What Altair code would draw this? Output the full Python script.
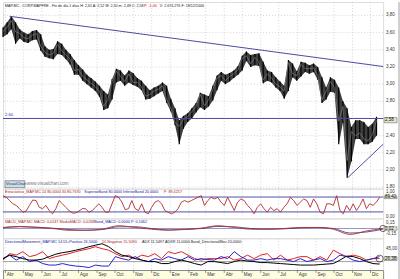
import altair as alt
import pandas as pd
import numpy as np

# ---------------- data ----------------
week_close = [3.61, 3.66, 3.74, 3.61, 3.59, 3.54, 3.53, 3.57, 3.59, 3.44,
              3.37, 3.34, 3.36, 3.46, 3.39, 3.34, 3.29, 3.16, 3.17, 3.09,
              3.05, 3.01, 2.97, 2.92, 2.74, 2.82, 3.03, 3.15, 3.09, 3.03,
              3.12, 3.02, 3.02, 2.97, 2.86, 2.88, 2.92, 2.94, 2.98, 2.82,
              2.72, 2.55, 2.51, 2.59, 2.62, 2.68, 2.74, 2.88, 2.75, 2.82,
              2.94, 3.07, 3.10, 3.04, 3.09, 3.12, 3.17, 3.30, 3.33, 3.24,
              3.31, 3.26, 3.05, 3.12, 3.07, 3.00, 2.97, 2.92, 3.25, 3.12,
              3.10, 3.23, 3.18, 3.18, 3.19, 3.10, 2.82, 2.92, 3.03, 2.96,
              2.57, 2.74, 2.11, 2.45, 2.40, 2.43, 2.36, 2.34, 2.41, 2.58]
week_high = [3.66, 3.72, 3.79, 3.72, 3.64, 3.60, 3.58, 3.62, 3.63, 3.58,
             3.44, 3.40, 3.41, 3.50, 3.47, 3.40, 3.35, 3.28, 3.22, 3.17,
             3.11, 3.07, 3.03, 2.98, 2.92, 2.88, 3.06, 3.18, 3.16, 3.10,
             3.16, 3.13, 3.07, 3.04, 2.98, 2.93, 2.96, 2.98, 3.02, 2.98,
             2.83, 2.72, 2.58, 2.63, 2.66, 2.72, 2.78, 2.90, 2.88, 2.86,
             2.98, 3.10, 3.14, 3.11, 3.13, 3.16, 3.21, 3.33, 3.38, 3.34,
             3.35, 3.36, 3.26, 3.16, 3.14, 3.08, 3.03, 2.98, 3.28, 3.24,
             3.15, 3.26, 3.25, 3.22, 3.24, 3.20, 3.08, 2.96, 3.08, 3.05,
             2.96, 2.80, 2.72, 2.50, 2.58, 2.58, 2.56, 2.50, 2.54, 2.62]
week_low = [3.55, 3.58, 3.64, 3.47, 3.53, 3.49, 3.48, 3.51, 3.52, 3.39,
            3.32, 3.30, 3.29, 3.35, 3.34, 3.29, 3.23, 3.11, 3.11, 3.04,
            3.00, 2.96, 2.92, 2.85, 2.70, 2.72, 2.82, 3.02, 3.04, 2.98,
            3.02, 2.99, 2.97, 2.93, 2.82, 2.83, 2.86, 2.89, 2.92, 2.78,
            2.68, 2.52, 2.30, 2.48, 2.56, 2.60, 2.67, 2.73, 2.70, 2.74,
            2.81, 2.93, 3.04, 3.00, 3.03, 3.07, 3.11, 3.16, 3.27, 3.20,
            3.22, 3.21, 3.01, 3.04, 3.02, 2.96, 2.92, 2.83, 2.92, 3.08,
            3.04, 3.09, 3.14, 3.12, 3.14, 3.05, 2.78, 2.82, 2.91, 2.90,
            2.30, 2.55, 1.91, 2.10, 2.36, 2.36, 2.30, 2.30, 2.33, 2.40]

trend_names = ["upper", "upper", "lower", "lower", "level", "level"]
trend_dates = ["2005-04-08", "2006-12-22", "2006-10-24", "2006-12-22", "2005-03-28", "2006-12-22"]
trend_prices = [3.79, 3.205, 1.91, 2.30, 2.60, 2.60]

month_starts = ["2005-04-01", "2005-05-01", "2005-06-01", "2005-07-01", "2005-08-01",
                "2005-09-01", "2005-10-01", "2005-11-01", "2005-12-01", "2006-01-01",
                "2006-02-01", "2006-03-01", "2006-04-01", "2006-05-01", "2006-06-01",
                "2006-07-01", "2006-08-01", "2006-09-01", "2006-10-01", "2006-11-01",
                "2006-12-01"]
month_labels = ["Abr", "May", "Jun", "Jul", "Ago", "Sep", "Oct", "Nov", "Dic", "Ene",
                "Feb", "Mar", "Abr", "May", "Jun", "Jul", "Ago", "Sep", "Oct", "Nov", "Dic"]

price_ticks = [1.8, 2.0, 2.2, 2.4, 2.6, 2.8, 3.0, 3.2, 3.4, 3.6, 3.8]
price_tick_labels = ["1,80", "2,00", "2,20", "2,40", "", "2,80", "3,00", "3,20", "3,40", "3,60", "3,80"]

stoch = [80, 74, 62, 50, 44, 32, 19, 23, 44, 64, 62, 37, 32, 44, 25, 13, 32, 62, 50, 37,
         25, 16, 16, 23, 32, 32, 19, 25, 37, 50, 37, 19, 19, 50, 80, 74, 56, 28, 32, 62,
         32, 25, 50, 19, 13, 37, 56, 62, 50, 25, 19, 13, 19, 32, 56, 62, 56, 62, 68, 74,
         80, 44, 62, 74, 68, 74, 56, 44, 74, 50, 25, 56, 68, 62, 44, 32, 13, 37, 50, 32,
         19, 37, 25, 32, 19, 37, 50, 74, 62, 44, 56, 68, 62, 37, 68, 50, 19, 13, 50, 50,
         44, 80, 25, 13, 44, 25, 50, 25, 44, 68, 32, 50, 44, 56, 74]
stoch_bands = [75, 20]
stoch_ticks = [95, 0]
stoch_tick_labels = ["1,00", "0,00"]

macd = [0.03, 0.06, 0.03, 0.00, -0.05, -0.05, -0.02, 0.08, 0.03, -0.02, -0.05, -0.02,
        0.01, 0.08, 0.03, -0.02, -0.02, 0.00, 0.03, 0.03, -0.02, -0.17, -0.07, 0.00]
macd_signal = [0.02, 0.05, 0.04, 0.01, -0.03, -0.05, -0.03, 0.05, 0.05, 0.00, -0.04, -0.03,
               0.00, 0.06, 0.05, 0.00, -0.02, -0.01, 0.02, 0.03, 0.00, -0.13, -0.10, -0.02]
macd_ticks = [0.15, -0.15]
macd_tick_labels = ["0,15", "-0,15"]

di_plus = [16, 29, 26, 33, 23, 26, 33, 19, 23, 26, 29, 33, 36, 39, 43, 39, 36, 29, 23, 26,
           19, 26, 23, 29, 19, 33, 29, 33, 26, 19, 16,
           19, 19, 19, 23, 16, 19, 26, 19, 26, 29, 16, 26, 16, 19, 23, 23, 16, 23, 16, 36,
           29, 23, 26, 23, 16, 19, 19]
di_minus = [19, 26, 16, 23, 13, 16, 9, 6, 6, 9, 6, 4, 3, 1, 6, 4, 4, 23, 19, 16,
            23, 16, 13, 19, 16, 23, 19, 16, 23, 16, 19,
            17, 16, 23, 19, 33, 23, 16, 16, 19, 16, 19, 19, 16, 13, 19, 13, 16, 19, 13, 16,
            26, 23, 16, 13, 16, 19, 23]
adx = [19, 26, 23, 19, 16, 16, 18, 23, 28, 31, 33, 36, 39, 43, 46, 49, 43, 33, 26, 23,
       19, 16, 13, 13, 9, 9, 13, 16, 13, 9, 6,
       13, 13, 11, 9, 13, 16, 14, 13, 11, 11, 10, 9, 8, 7, 6, 6, 6, 7, 8, 9,
       16, 24, 23, 19, 13, 9, 8]
dmi_band = 13
dmi_ticks = [38]
dmi_tick_labels = ["45,00"]

# ---------------- tables ----------------
START = pd.Timestamp("2005-03-28")
W = 383
FONT = "Liberation Sans"

price = pd.DataFrame({"date": pd.date_range(START, periods=len(week_close), freq="7D"),
                      "close": week_close, "high": week_high, "low": week_low})
trend = pd.DataFrame({"line": trend_names, "date": pd.to_datetime(trend_dates), "price": trend_prices})
months = pd.DataFrame({"date": pd.to_datetime(month_starts), "label": month_labels})

stoch_df = pd.DataFrame({"date": START + pd.to_timedelta(np.arange(len(stoch)) * 5.51, unit="D"), "v": stoch})
macd_df = pd.DataFrame({"date": START + pd.to_timedelta(np.arange(len(macd)) * 27.55, unit="D"),
                        "macd": macd, "signal": macd_signal})
dmi_dates = START + pd.to_timedelta(np.arange(len(adx)) * 11.02, unit="D")
dmi_df = pd.concat([
    pd.DataFrame({"date": dmi_dates, "v": di_plus, "s": "DI+"}),
    pd.DataFrame({"date": dmi_dates, "v": di_minus, "s": "DI-"}),
    pd.DataFrame({"date": dmi_dates, "v": adx, "s": "ADX"}),
])

x_scale = alt.Scale(domain=[alt.DateTime(year=2005, month=3, date=28),
                            alt.DateTime(year=2006, month=12, date=22)])


def xenc(field="date"):
    return alt.X(f"{field}:T", scale=x_scale, axis=None)


def comma(v):
    return f"{v:.2f}".replace(".", ",")


def yq(field, scale):
    return alt.Y(f"{field}:Q", scale=scale, axis=None)


def right_labels(ticks, labels, scale, grid=True):
    df = pd.DataFrame({"v": ticks, "t": labels})
    txt = alt.Chart(df).mark_text(fontSize=4.5, align="left", baseline="middle", font=FONT,
                                  color="#333333").encode(x=alt.value(W + 3), y=yq("v", scale), text="t:N")
    if not grid:
        return txt
    g = alt.Chart(df).mark_rule(color="#c4c4c4", strokeDash=[1, 2], strokeWidth=0.7).encode(y=yq("v", scale))
    return g + txt


vgrid = alt.Chart(months).mark_rule(color="#c4c4c4", strokeDash=[1, 2], strokeWidth=0.7).encode(x=xenc())


def value_box(v, text, scale, half):
    df = pd.DataFrame({"v": [v], "t": [text]})
    base = alt.Chart(df).transform_calculate(top=f"datum.v + {half}", bot=f"datum.v - {half}")
    rect = base.mark_rect(fill="#e6e6d2", stroke="#555555", strokeWidth=0.5).encode(
        x=alt.value(W + 1), x2=alt.value(W + 14), y=yq("top", scale), y2="bot:Q")
    txt = base.mark_text(fontSize=4.5, align="left", baseline="middle", font=FONT, color="#111").encode(
        x=alt.value(W + 2), y=yq("v", scale), text="t:N")
    return rect + txt


def label(text, x, y, color="#222222", size=4.0):
    return alt.Chart(pd.DataFrame({"t": [text]})).mark_text(
        fontSize=size, align="left", baseline="middle", font=FONT, color=color).encode(
        x=alt.value(x), y=alt.value(y), text="t:N")


def frame(h):
    return alt.Chart(pd.DataFrame({"a": [0]})).mark_rule(color="#888888", strokeWidth=0.8).encode(
        x=alt.value(W + 16), y=alt.value(0), y2=alt.value(h))


# ---------------- main price panel ----------------
ys = alt.Scale(domain=[1.783, 3.956], nice=False, zero=False)
band = alt.Chart(price).mark_area(color="#1c1c1c", opacity=0.85).encode(
    x=xenc(), y=yq("low", ys), y2="high:Q")
bars = alt.Chart(price).mark_rule(color="#000000", strokeWidth=1.2).encode(
    x=xenc(), y=yq("low", ys), y2="high:Q")
closes = alt.Chart(price).mark_line(color="#8a8a8a", strokeWidth=0.6).encode(x=xenc(), y=yq("close", ys))
trends = alt.Chart(trend).mark_line(color="#4b4ba3", strokeWidth=1).encode(
    x=xenc(), y=yq("price", ys), detail="line:N")
lvl_lbl = alt.Chart(pd.DataFrame({"date": [START], "price": [2.60], "t": ["2,60"]})).mark_text(
    fontSize=4.2, align="left", baseline="bottom", dx=2, dy=-2, font=FONT, color="#333388").encode(
    x=xenc(), y=yq("price", ys), text="t:N")
main_title = label("MAP.MC - CORP.MAPFRE - Fin de día 1 días  H: 2,61  A: 2,52  M: 2,50  m: 2,49  C: 2,58", 2, 4, size=3.7)
main_red = label("P: -1,00", 142, 4, color="#cc0000", size=3.7)
main_rest = label("V: 2.674.276  F: 18/12/2006", 158, 4, size=3.7)
logo_box = alt.Chart(pd.DataFrame({"a": [0]})).mark_rect(fill="#ccdde8", stroke="#444", strokeWidth=0.5).encode(
    x=alt.value(2), x2=alt.value(22), y=alt.value(180), y2=alt.value(187))
logo_txt = label("VisualChart", 3, 183.5, color="#223366", size=4)
logo_url = label("www.visualchart.com", 24, 183.5, color="#777777", size=4.5)

main = alt.layer(vgrid, right_labels(price_ticks, price_tick_labels, ys), band, bars, closes, trends, lvl_lbl,
                 value_box(week_close[-1], comma(week_close[-1]), ys, 0.03),
                 main_title, main_red, main_rest, logo_box, logo_txt, logo_url, frame(188)
                 ).properties(width=W, height=188)

# ---------------- stochastic panel ----------------
ss = alt.Scale(domain=[-4, 106], nice=False, zero=False)
st_line = alt.Chart(stoch_df).mark_line(color="#b02828", strokeWidth=0.9).encode(x=xenc(), y=yq("v", ss))
st_bands = alt.Chart(pd.DataFrame({"v": stoch_bands})).mark_rule(color="#3c3ca0", strokeWidth=0.9).encode(
    y=yq("v", ss))
st_t1 = label("Estocástico_MAP.MC 14 80,0000 30 80,7670", 2, 3.5, color="#aa2222", size=3.8)
st_t2 = label("SuperiorBand 80,0000  InferiorBand 20,0000", 82, 3.5, color="#222299", size=3.8)
st_t3 = label("P: 89,4257", 162, 3.5, color="#aa2222", size=3.8)
stoch_panel = alt.layer(vgrid, right_labels(stoch_ticks, stoch_tick_labels, ss, grid=False), st_bands, st_line,
                        value_box(stoch[-1], "89,42", ss, 5),
                        st_t1, st_t2, st_t3, frame(30)).properties(width=W, height=30)

# ---------------- MACD panel ----------------
ms = alt.Scale(domain=[-0.28, 0.29], nice=False, zero=False)
m_zero = alt.Chart(pd.DataFrame({"v": [0.0]})).mark_rule(color="#6a6ab0", strokeWidth=0.7).encode(y=yq("v", ms))
m_line = alt.Chart(macd_df).mark_line(color="#b03030", strokeWidth=0.9, interpolate="monotone").encode(
    x=xenc(), y=yq("macd", ms))
m_sig = alt.Chart(macd_df).mark_line(color="#3a2a70", strokeWidth=0.8, interpolate="monotone").encode(
    x=xenc(), y=yq("signal", ms))
m_ring = alt.Chart(macd_df.tail(1)).mark_point(shape="circle", filled=False, color="black", size=40,
                                               strokeWidth=0.8).encode(x=xenc(), y=yq("macd", ms))
m_t1 = label("MACD_MAP.MC  MACD: 0,0247  MediaMACD: 0,0268", 2, 3.5, color="#aa2222", size=3.8)
m_t2 = label("Band_MACD: 0,0000  P: 0,1462", 92, 3.5, color="#222299", size=3.8)
macd_panel = alt.layer(m_zero, right_labels(macd_ticks, macd_tick_labels, ms, grid=False), m_sig, m_line, m_ring,
                       value_box(macd[-1], "0,02", ms, 0.05),
                       m_t1, m_t2, frame(20)).properties(width=W, height=20)

# ---------------- DMI panel ----------------
ds = alt.Scale(domain=[-4, 60], nice=False, zero=False)
d_band = alt.Chart(pd.DataFrame({"v": [dmi_band]})).mark_rule(color="#8a8a8a", strokeWidth=0.8).encode(
    y=yq("v", ds))
d_lines = alt.Chart(dmi_df).mark_line().encode(
    x=xenc(), y=yq("v", ds),
    color=alt.Color("s:N", scale=alt.Scale(domain=["DI+", "DI-", "ADX"],
                                           range=["#e02020", "#2222cc", "#000000"]), legend=None),
    strokeWidth=alt.StrokeWidth("s:N", scale=alt.Scale(domain=["DI+", "DI-", "ADX"], range=[1, 1, 1.5]),
                                legend=None))
d_ring = alt.Chart(dmi_df[dmi_df.s == "DI+"].tail(1)).mark_point(shape="circle", filled=False, color="black",
                                                                 size=50, strokeWidth=0.8).encode(
    x=xenc(), y=yq("v", ds))
d_t1 = label("DirectionalMovement_MAP.MC 14 DI+Positivo 26,5000", 2, 4, color="#222299", size=3.8)
d_t2 = label("DI-Negativo 15,5090", 100, 4, color="#aa2222", size=3.8)
d_t3 = label("ADX 11,5497  ADXR 11,0000  Band_DirectionalMov 20,0000", 140, 4, color="#222222", size=3.8)
dmi_panel = alt.layer(vgrid, right_labels(dmi_ticks, dmi_tick_labels, ds, grid=False), d_band, d_lines, d_ring,
                      value_box(di_plus[-1], "26,38", ds, 4),
                      d_t1, d_t2, d_t3, frame(32)).properties(width=W, height=32)

# ---------------- month strip ----------------
m_ticks = alt.Chart(months).mark_rule(color="#555555", strokeWidth=0.6).encode(
    x=xenc(), y=alt.value(0), y2=alt.value(3))
m_text = alt.Chart(months).mark_text(fontSize=4.5, align="left", baseline="middle", dx=1.5,
                                     font=FONT, color="#333333").encode(
    x=xenc(), y=alt.value(5), text="label:N")
strip = alt.layer(m_ticks, m_text, frame(9)).properties(
    width=W, height=9, view=alt.ViewBackground(fill="#fdfde0", stroke="#888888"))

chart = alt.vconcat(main, stoch_panel, macd_panel, dmi_panel, strip, spacing=0, bounds="flush").properties(
    padding=0, background="white"
).configure_view(stroke="#888888", strokeWidth=0.8).configure(font=FONT)

chart.save("out.html", embed_options={"renderer": "svg", "actions": False})
